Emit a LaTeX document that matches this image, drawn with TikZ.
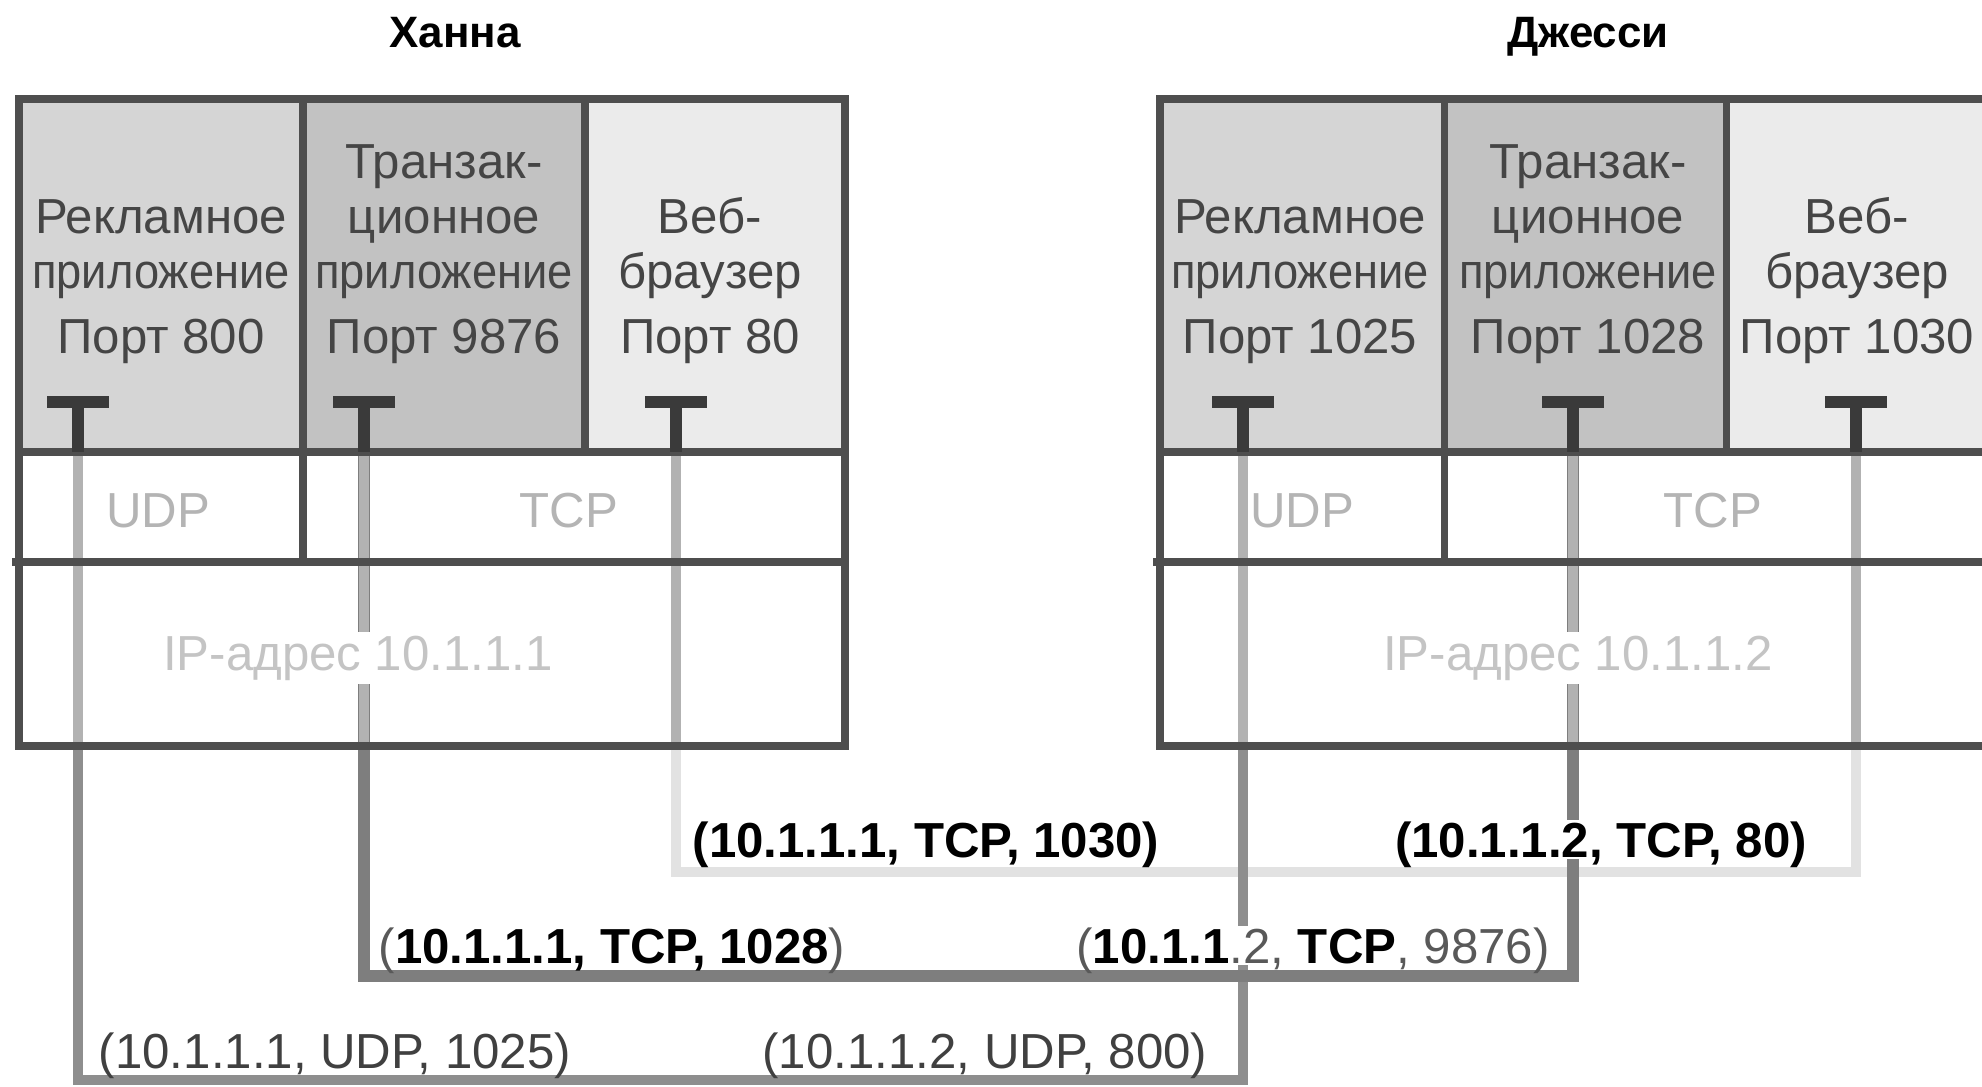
\documentclass[tikz,border=0pt]{standalone}
\usepackage{fontspec}
\setmainfont{Liberation Sans}
\newfontfamily\narrowfont{Liberation Sans}[FakeStretch=0.92]

\definecolor{framegray}{HTML}{4E4E4E}
\definecolor{appA}{HTML}{D5D5D5}
\definecolor{appB}{HTML}{C2C2C2}
\definecolor{appC}{HTML}{EBEBEB}
\definecolor{portgray}{HTML}{3A3A3A}
\definecolor{stackgray}{HTML}{B2B2B2}
\definecolor{udpgray}{HTML}{8E8E8E}
\definecolor{tcpgray}{HTML}{7E7E7E}
\definecolor{webgray}{HTML}{E2E2E2}
\definecolor{layertext}{HTML}{B4B4B4}
\definecolor{addrtext}{HTML}{C4C4C4}
\definecolor{apptext}{HTML}{454545}

\newcommand{\boldpart}[1]{\textcolor{black}{\bfseries #1}}
\newcommand{\appword}{{\narrowfont приложение}}

\tikzset{
  frameline/.style={draw=framegray, line width=4pt},
  porttee/.style={draw=portgray, line width=6.5pt},
  conn/.style={line width=5.8pt},
  appname/.style={text=apptext, align=center, anchor=south, inner sep=0pt, font=\fontsize{28}{31.3}\selectfont},
  portname/.style={text=apptext, anchor=base, inner sep=0pt, font=\fontsize{28}{31.3}\selectfont},
  layername/.style={text=layertext, anchor=base, font=\fontsize{28}{30}\selectfont},
  addrname/.style={text=addrtext, anchor=base, fill=white, inner sep=2pt, font=\fontsize{28}{30}\selectfont},
  hostname/.style={anchor=base, font=\bfseries\fontsize{25}{28}\selectfont},
  connlabel/.style={anchor=base, fill=white, inner sep=1pt, text depth=0pt, font=\fontsize{28}{30}\selectfont}
}

\begin{document}
\begin{tikzpicture}[x=0.02cm, y=0.02cm]
    \useasboundingbox (0,0) rectangle (1982,-1086);
    \clip (0,0) rectangle (1982,-1086);

    % ports (top of the T)
    \coordinate (hT1) at (78,-402);
    \coordinate (hT2) at (364,-402);
    \coordinate (hT3) at (676,-402);
    \coordinate (jT1) at (1243,-402);
    \coordinate (jT2) at (1573,-402);
    \coordinate (jT3) at (1856,-402);

    % connections
    \draw[conn, webgray] (hT3) -- ++(0,-470) -| (jT3);
    \draw[conn, udpgray] (hT1) -- ++(0,-678) -| (jT1);
    \draw[conn, tcpgray, line width=6.8pt] (hT2) -- ++(0,-574) -| (jT2);

    % lighter inside the stack
    \foreach \p in {hT1,hT2,hT3,jT1,jT2,jT3}
        \draw[conn, stackgray] (\p) ++(0,-50) -- ++(0,-294);

    % the two hosts
    \foreach \dx in {0,1141}
    {
        \begin{scope}[shift={(\dx,0)}]
            \fill[appA] (19,-99) rectangle (303,-452);
            \fill[appB] (303,-99) rectangle (585,-452);
            \fill[appC] (585,-99) rectangle (845,-452);
            \draw[frameline] (19,-99) rectangle (845,-746);
            \draw[frameline] (19,-452) -- (845,-452) (12,-562) -- (845,-562);
            \draw[frameline] (303,-99) -- (303,-562) (585,-99) -- (585,-452);
        \end{scope}
    }

    \foreach \p in {hT1,hT2,hT3,jT1,jT2,jT3}
        \draw[porttee] (\p) ++(-31,0) -- ++(62,0) (\p) -- ++(0,-50);

    \node[hostname] (hanna) at (455,-47) {Ханна};
    \node[hostname] (jessie) at (1588,-47) {Джесси};

    \node[appname] (hA) at (161,-299) {Рекламное\\\appword};
    \node[appname] (hB) at (444,-299) {Транзак-\\ционное\\\appword};
    \node[appname] (hC) at (710,-299) {Веб-\\браузер};
    \node[appname] (jA) at (1300,-299) {Рекламное\\\appword};
    \node[appname] (jB) at (1588,-299) {Транзак-\\ционное\\\appword};
    \node[appname] (jC) at (1857,-299) {Веб-\\браузер};

    \foreach \x/\n/\num in {161/hpA/800, 444/hpB/9876, 710/hpC/80, 1300/jpA/1025, 1588/jpB/1028, 1857/jpC/1030}
        \node[portname] (\n) at (\x,-353) {Порт \num};

    \node[layername] (hudp) at (158,-527) {UDP};
    \node[layername] (htcp) at (569,-527) {TCP};
    \node[layername] (judp) at (1302,-527) {UDP};
    \node[layername] (jtcp) at (1713,-527) {TCP};
    \node[addrname] (hip) at (358,-670) {IP-адрес 10.1.1.1};
    \node[addrname] (jip) at (1578,-670) {IP-адрес 10.1.1.2};

    % socket labels
    \node[connlabel, text=black!75] (udpA) at (335,-1068) {(10.1.1.1, UDP, 1025)};
    \node[connlabel, text=black!75] (udpB) at (985,-1068) {(10.1.1.2, UDP, 800)};
    \node[connlabel, text=black!65] (tcpA) at (612,-963) {(\boldpart{10.1.1.1, TCP, 1028})};
    \node[connlabel, text=black!65] (tcpB) at (1313,-963) {(\boldpart{10.1.1}.2, \boldpart{TCP}, 9876)};
    \node[connlabel, font=\bfseries\fontsize{28}{30}\selectfont] (webA) at (926,-857) {(10.1.1.1, TCP, 1030)};
    \node[connlabel, font=\bfseries\fontsize{28}{30}\selectfont] (webB) at (1601,-857) {(10.1.1.2, TCP, 80)};

\end{tikzpicture}
\end{document}
